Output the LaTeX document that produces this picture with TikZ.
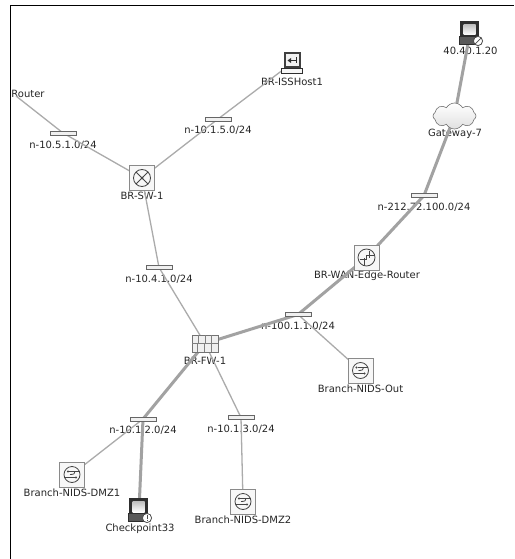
\documentclass[tikz,border=0pt]{standalone}
\usepackage{fontspec}
\setmainfont{DejaVu Sans}
\usetikzlibrary{shapes.symbols,arrows.meta}
\pgfdeclarelayer{lab}
\pgfdeclarelayer{edge}
\pgfsetlayers{lab,edge,main}
\definecolor{linegray}{HTML}{ABABAB}
\definecolor{thickgray}{HTML}{A2A2A2}
\definecolor{boxgray}{HTML}{8A8A8A}
\definecolor{glyph}{HTML}{454545}
\definecolor{dark}{HTML}{2E2E2E}
\tikzset{
  lbl/.style={inner sep=0pt,yshift=-0.7pt,font=\fontsize{10}{12}\selectfont,text=black!85},
  subnet/.style={draw=black!60,fill=black!6,line width=0.8pt,minimum width=26pt,minimum height=4pt,inner sep=0pt,outer sep=0pt},
  devbox/.style={draw=boxgray,fill=black!3,line width=1pt,minimum size=25pt,inner sep=0pt},
  slink/.style={draw=linegray,line width=1.3pt},
  tlink/.style={draw=thickgray,line width=3pt},
  gl/.style={draw=glyph,line width=0.8pt},
  cloudnode/.style={cloud,cloud puffs=8,cloud puff arc=120,aspect=1.6,draw=black!55,line width=0.6pt,top color=white,bottom color=black!12,minimum width=43pt,minimum height=26pt,inner sep=0pt},
  anchornode/.style={minimum size=1pt,inner sep=0pt}
}
\newcommand{\nidsglyph}[1]{%
  \begin{scope}[shift={(#1)}]
    \draw[gl] (0,0) circle (8);
    \draw[gl] (7,-3) -- (-3,-3);
    \draw[gl] (-7,3) -- (3,3);
    \draw[gl] (-2,0) .. controls (2,0) and (3,-1) .. (3,-3);
    \fill[glyph] (-4,-3) circle (1.1);
    \fill[glyph] (4,3) circle (1.1);
  \end{scope}}
\newcommand{\pcglyph}[2]{%
  \begin{scope}[shift={(#1)}]
    \fill[dark] (-10,-12) rectangle (9,5);
    \shade[top color=black!25,bottom color=white] (-6.5,-8.5) rectangle (5.5,2);
    \fill[black!65] (-11,3.5) rectangle (8,11);
    \draw[dark,line width=.6pt] (-11,3.5) rectangle (8,11);
    \draw[black!70,fill=white,line width=.8pt] (8,8) circle (4.6);
    \draw[black!70,line width=.7pt] #2;
  \end{scope}}
\begin{document}
\begin{tikzpicture}[x=1pt,y=-1pt]
\useasboundingbox (0,0) rectangle (514,559);

% device and subnet nodes
\node[subnet] (n51) at (63,133) {};
\node[subnet] (n15) at (218,119) {};
\node[subnet] (n41) at (159,267.5) {};
\node[subnet] (n212) at (424,195.5) {};
\node[subnet] (n100) at (298,314.5) {};
\node[subnet] (n12) at (143,419) {};
\node[subnet] (n13) at (241,417.5) {};
\node[devbox] (sw) at (142,178) {};
\node[devbox] (wan) at (366.5,257.5) {};
\node[devbox] (out) at (360.5,370.5) {};
\node[devbox] (dmz1) at (72,474.5) {};
\node[devbox] (dmz2) at (243,501.5) {};
\node[draw=black!55,fill=black!6,line width=.8pt,minimum width=26pt,minimum height=17pt,inner sep=0pt] (fw) at (205,343.5) {};
\node[cloudnode] (gw) at (454.5,116) {};
\node[anchornode] (pc) at (470,33) {};
\node[anchornode] (cp) at (139,510) {};
\node[anchornode] (host) at (292,63) {};
\coordinate (rt) at (16,96);

\begin{pgfonlayer}{lab}
  \fill[white] (0,0) rectangle (514,559);
  \draw[black,line width=1pt] (10.5,559) -- (10.5,5.5) -- (514,5.5);
  \node[lbl] (tr) at (28,93) {Router};
  \node[lbl] (t51) at (63,144.5) {n-10.5.1.0/24};
  \node[lbl] (t15) at (218,130) {n-10.1.5.0/24};
  \node[lbl] (t41) at (159,279) {n-10.4.1.0/24};
  \node[lbl] (t212) at (424,207) {n-212.72.100.0/24};
  \node[lbl] (t100) at (298,325.5) {n-100.1.1.0/24};
  \node[lbl] (t12) at (143,430) {n-10.1.2.0/24};
  \node[lbl] (t13) at (241,429) {n-10.1.3.0/24};
  \node[lbl] (tsw) at (142,195) {BR-SW-1};
  \node[lbl] (thost) at (292,81) {BR-ISSHost1};
  \node[lbl] (tpc) at (470.5,50.5) {40.40.1.20};
  \node[lbl] (tgw) at (455,133.5) {Gateway-7};
  \node[lbl] (twan) at (367,275) {BR-WAN-Edge-Router};
  \node[lbl] (tfw) at (205,360.5) {BR-FW-1};
  \node[lbl] (tout) at (360.5,388) {Branch-NIDS-Out};
  \node[lbl] (tdmz1) at (72,492.5) {Branch-NIDS-DMZ1};
  \node[lbl] (tcp) at (140,528.5) {Checkpoint33};
  \node[lbl] (tdmz2) at (243,519) {Branch-NIDS-DMZ2};
\end{pgfonlayer}

\begin{pgfonlayer}{edge}
  \draw[slink] (rt) -- (n51.center);
  \draw[slink] (n51.center) -- (sw.center);
  \draw[slink] (sw.center) -- (n15.center);
  \draw[slink] (n15.center) -- (host.center);
  \draw[slink] (sw.center) -- (n41.center);
  \draw[slink] (n41.center) -- (fw.center);
  \draw[slink] (fw.center) -- (n13.center);
  \draw[slink] (n13.center) -- (dmz2.center);
  \draw[slink] (n12.center) -- (dmz1.center);
  \draw[slink] (n100.center) -- (out.center);
  \draw[tlink] (fw.center) -- (n100.center);
  \draw[tlink] (n100.center) -- (wan.center);
  \draw[tlink] (wan.center) -- (n212.center);
  \draw[tlink] (n212.center) -- (gw.center);
  \draw[tlink] (gw.center) -- (pc.center);
  \draw[tlink] (fw.center) -- (n12.center);
  \draw[tlink] (n12.center) -- (cp.center);
\end{pgfonlayer}

% switch glyph
\begin{scope}[shift={(sw)}]
  \draw[gl] (0,0) circle (8.5);
  \draw[gl] (-6,-6) -- (6,6) (-6,6) -- (6,-6);
  \fill[glyph] (0,0) circle (1.5);
\end{scope}
% router glyph
\begin{scope}[shift={(wan)}]
  \draw[gl] (0,0) circle (8.5);
  \draw[gl] (-7,2) -- (0,2) -- (0,-2) -- (7,-2);
  \draw[gl] (2.5,-7) -- (2.5,0);
  \draw[gl] (-2.5,7) -- (-2.5,0);
\end{scope}
\nidsglyph{out}
\nidsglyph{dmz1}
\nidsglyph{dmz2}
% firewall glyph
\begin{scope}[shift={(fw)}]
  \draw[black!50,line width=.7pt] (-13,-0.5) -- (13,-0.5);
  \draw[black!50,line width=.7pt] (-6.5,-8.5) -- (-6.5,-0.5) (0,-8.5) -- (0,-0.5) (6.5,-8.5) -- (6.5,-0.5);
  \draw[black!50,line width=.7pt] (-8,-0.5) -- (-8,8.5) (-1,-0.5) -- (-1,8.5) (6,-0.5) -- (6,8.5);
\end{scope}
% workstation icons
\pcglyph{pc}{(4.8,11.2) -- (11.2,4.8)}
\pcglyph{cp}{(8,5) -- (8,8.5) (8,9.7) -- (8,10.9)}
% host icon
\begin{scope}[shift={(host)}]
  \fill[black!75] (-8.5,-10.5) rectangle (8.5,5);
  \fill[black!5] (-6.5,-8.5) rectangle (6.5,3);
  \draw[dark,line width=.9pt] (-4,-2.5) -- (4,-2.5);
  \draw[dark,line width=.9pt] (4,-5.5) -- (4,0.5);
  \fill[dark] (-4.5,-2.5) -- (-1,-5) -- (-1,0) -- cycle;
  \draw[dark,fill=black!3,line width=.8pt] (-10.5,5) rectangle (10.5,10.5);
\end{scope}
\end{tikzpicture}
\end{document}
